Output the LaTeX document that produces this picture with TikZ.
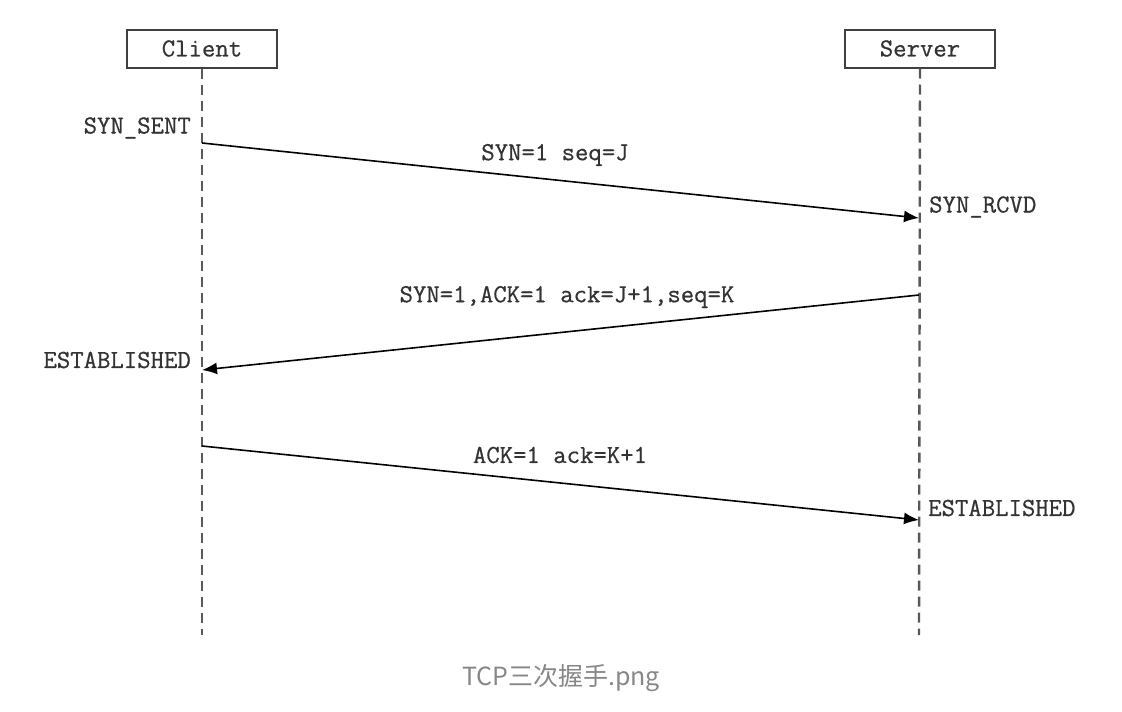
\documentclass[tikz,border=0pt]{standalone}
\usepackage{fontspec}
\usetikzlibrary{arrows.meta}
\newfontfamily\seqfont[FakeBold=0.6]{Latin Modern Mono}
\newfontfamily\capfont{Noto Sans CJK SC}
\tikzset{
  party/.style={draw=black!75,line width=2pt,minimum width=150pt,minimum height=38pt,inner sep=0pt,font=\seqfont\fontsize{26}{26}\selectfont,text=black!80},
  lifeline/.style={draw=black!65,line width=2.4pt,dash pattern=on 10pt off 6pt},
  msg/.style={draw=black,line width=1.6pt,-{Latex[length=15pt,width=12pt]}},
  lbl/.style={inner sep=0pt,font=\seqfont\fontsize{26}{26}\selectfont,text=black!80}
}
\begin{document}
\begin{tikzpicture}[x=1pt,y=-1pt]
  \useasboundingbox[fill=white] (0,0) rectangle (1122,712);

  \node[party] (client) at (202,48.5) {Client};
  \node[party] (server) at (920,48.5) {Server};

  \coordinate (clientend) at (202,635);
  \coordinate (serverend) at (919,635);
  \draw[lifeline] (client.south) -- (clientend);
  \draw[lifeline] (server.south) -- (serverend);

  % end points of the three messages
  \coordinate (c1) at (202,143);
  \coordinate (s1) at (919,218);
  \coordinate (s2) at (919,295);
  \coordinate (c2) at (202,370);
  \coordinate (c3) at (202,446);
  \coordinate (s3) at (919,520);

  \draw[msg] (c1) -- (s1);
  \draw[msg] (s2) -- (c2);
  \draw[msg] (c3) -- (s3);

  \node[lbl] (syn) at (555,155) {SYN=1 seq=J};
  \node[lbl] (synack) at (567,297) {SYN=1,ACK=1 ack=J+1,seq=K};
  \node[lbl] (ack) at (560,455) {ACK=1 ack=K+1};

  \node[lbl,anchor=east] (synsent) at (191,128) {SYN\_SENT};
  \node[lbl,anchor=west] (synrcvd) at (929,207) {SYN\_RCVD};
  \node[lbl,anchor=east] (estclient) at (191,360) {ESTABLISHED};
  \node[lbl,anchor=west] (estserver) at (928,508) {ESTABLISHED};

  \node[font=\capfont\fontsize{25}{25}\selectfont,text=black!47] (caption) at (561,678) {TCP三次握手.png};
\end{tikzpicture}
\end{document}
